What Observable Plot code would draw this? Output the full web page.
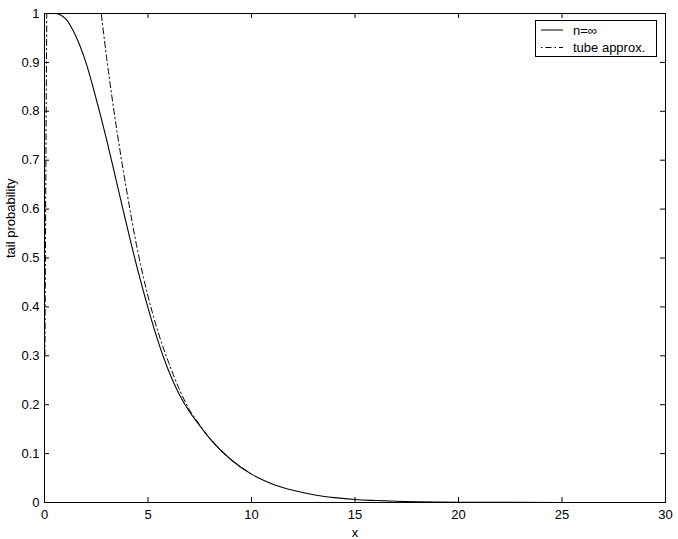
<!DOCTYPE html>
<html>
<head>
<meta charset="utf-8">
<script src="https://cdn.jsdelivr.net/npm/d3@7"></script>
<script src="https://cdn.jsdelivr.net/npm/@observablehq/plot@0.6"></script>
<style>
  html, body { margin: 0; padding: 0; background: #fff; }
  #wrap { position: relative; width: 678px; height: 539px; font-family: "Liberation Sans", Arial, Helvetica, sans-serif; }
  #legend { position: absolute; left: 535px; top: 20px; }
</style>
</head>
<body>
<div id="wrap"></div>
<script>
// n = infinity curve
const xInf = [0, 0.5, 1.0, 1.5, 2.0, 2.5, 3.0, 3.5, 4.0, 4.5, 5.0, 5.5, 6.0, 6.5, 7.0, 7.5, 8.0, 9.0, 10, 11, 12, 13, 14, 15, 16, 18, 20, 25, 30];
const yInf = [1.0, 1.0, 0.99, 0.955, 0.9, 0.825, 0.742, 0.652, 0.562, 0.476, 0.398, 0.328, 0.269, 0.222, 0.186, 0.157, 0.13, 0.088, 0.058, 0.038, 0.025, 0.016, 0.010, 0.006, 0.004, 0.0015, 0.0006, 0.0001, 0];

// tube approximation, left branch (rises steeply near 0, then goes above 1)
const xTubeA = [0.02, 0.05, 0.08, 0.11, 0.14];
const yTubeA = [0.3, 0.55, 0.8, 1.0, 1.2];
// tube approximation, right branch
const xTubeB = [2.5, 2.74, 3.0, 3.5, 4.0, 4.5, 5.0, 5.5, 6.0, 6.5, 7.0, 7.5, 8.0, 9.0, 10];
const yTubeB = [1.08, 1.0, 0.91, 0.76, 0.63, 0.515, 0.422, 0.347, 0.286, 0.233, 0.19, 0.159, 0.13, 0.088, 0.058];

const xTicks = [0, 5, 10, 15, 20, 25, 30];
const yTicks = [0, 0.1, 0.2, 0.3, 0.4, 0.5, 0.6, 0.7, 0.8, 0.9, 1];
const yTickLabels = ["0", "0.1", "0.2", "0.3", "0.4", "0.5", "0.6", "0.7", "0.8", "0.9", "1"];

const seriesNames = ["n=\u221e", "tube approx."];

const inf = xInf.map((x, i) => ({x, y: yInf[i]}));
const tubeA = xTubeA.map((x, i) => ({x, y: yTubeA[i]}));
const tubeB = xTubeB.map((x, i) => ({x, y: yTubeB[i]}));

const W = 678, H = 539, mL = 44, mR = 13, mT = 13, mB = 37;
const innerH = H - mT - mB, innerW = W - mL - mR;
const tickLen = 5;
const dash = "6,3,1.5,3";

const plot = Plot.plot({
  width: W, height: H,
  marginLeft: mL, marginRight: mR, marginTop: mT, marginBottom: mB,
  style: {fontFamily: "'Liberation Sans', Arial, Helvetica, sans-serif", fontSize: "13px", background: "#fff", color: "#000"},
  x: {domain: [0, 30]},
  y: {domain: [0, 1]},
  marks: [
    Plot.line(tubeA, {x: "x", y: "y", stroke: "#000", strokeWidth: 1, strokeDasharray: dash, clip: true}),
    Plot.line(tubeB, {x: "x", y: "y", stroke: "#000", strokeWidth: 1, strokeDasharray: dash, clip: true, curve: "monotone-x"}),
    Plot.line(inf, {x: "x", y: "y", stroke: "#000", strokeWidth: 1.1, clip: true, curve: "monotone-x"}),
    // inward ticks on all sides
    Plot.tickX(xTicks, {x: d => d, stroke: "#000", insetTop: innerH - tickLen}),
    Plot.tickX(xTicks, {x: d => d, stroke: "#000", insetBottom: innerH - tickLen}),
    Plot.tickY(yTicks, {y: d => d, stroke: "#000", insetRight: innerW - tickLen}),
    Plot.tickY(yTicks, {y: d => d, stroke: "#000", insetLeft: innerW - tickLen}),
    Plot.frame({stroke: "#000", strokeWidth: 1}),
    Plot.axisX(xTicks, {anchor: "bottom", tickSize: 0, tickPadding: 7, label: null, fontSize: 13, tickFormat: d => String(d)}),
    Plot.axisY(yTicks, {anchor: "left", tickSize: 0, tickPadding: 5, label: null, fontSize: 13, tickFormat: d => yTickLabels[yTicks.indexOf(d)]}),
    Plot.text(["x"], {text: d => d, frameAnchor: "bottom", dy: 30, lineAnchor: "middle", fontSize: 13}),
    Plot.text(["tail probability"], {text: d => d, frameAnchor: "left", dx: -34, rotate: -90, fontSize: 13})
  ]
});

const wrap = document.getElementById("wrap");
wrap.appendChild(plot);

// legend (drawn with d3 inside the plot area)
const lg = d3.select(wrap).append("svg")
  .attr("id", "legend")
  .attr("width", 123).attr("height", 38);
lg.append("rect").attr("x", 0.5).attr("y", 0.5).attr("width", 121).attr("height", 36)
  .attr("fill", "#fff").attr("stroke", "#000");
const rows = lg.selectAll("g").data(seriesNames).join("g")
  .attr("transform", (d, i) => `translate(0, ${10 + i * 17.5})`);
rows.append("line").attr("x1", 6).attr("x2", 28).attr("y1", 0).attr("y2", 0)
  .attr("stroke", "#000").attr("stroke-width", 1)
  .attr("stroke-dasharray", (d, i) => i === 0 ? null : "1.5,3,6,3");
rows.append("text").attr("x", 38).attr("y", 0).attr("dy", "0.35em")
  .attr("font-size", 13).attr("font-family", "'Liberation Sans', Arial, sans-serif")
  .text(d => d);
</script>
</body>
</html>
